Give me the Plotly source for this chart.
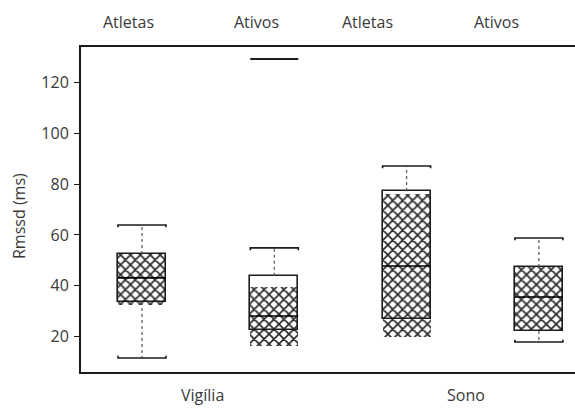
import plotly.graph_objects as go

# Rmssd summaries per group (ms)
groups = ["Atletas", "Ativos", "Atletas", "Ativos"]
phases = ["Vigília", "Sono"]
q3 = [52.5, 43.9, 77.3, 47.4]
q1 = [33.6, 22.6, 27.0, 22.2]
median = [43.1, 28.1, 47.8, 35.6]
hatch_top = [52.5, 39.5, 76.0, 47.4]
hatch_bottom = [32.5, 16.3, 19.9, 22.2]
upper_whisker = [63.9, 54.9, 87.1, 58.8]
lower_whisker = [11.6, None, None, 17.9]
outliers = [None, 129.2, None, None]
y_ticks = [20, 40, 60, 80, 100, 120]

INK = "#1c1c1c"
TEXT = "#3a3a3a"
FONT = "Open Sans"
W = 0.363      # box width in x units
CAP = 0.9      # length of the little bent ends of the caps

xs = list(range(len(groups)))
fig = go.Figure()

# hatched body of each box
fig.add_trace(go.Bar(
    x=xs, y=[t - b for t, b in zip(hatch_top, hatch_bottom)], base=hatch_bottom,
    width=W,
    marker=dict(color="white", line=dict(width=0),
                pattern=dict(shape="x", size=7, solidity=0.42,
                             fgcolor="#111111", fgopacity=0.9, bgcolor="white")),
    hoverinfo="skip", showlegend=False))

# box outline (quartiles)
fig.add_trace(go.Bar(
    x=xs, y=[t - b for t, b in zip(q3, q1)], base=q1, width=W,
    marker=dict(color="rgba(0,0,0,0)", line=dict(width=1.6, color=INK)),
    hoverinfo="skip", showlegend=False))

for i, x in enumerate(xs):
    l, r = x - W / 2, x + W / 2
    # median
    fig.add_trace(go.Scatter(x=[l, r], y=[median[i]] * 2, mode="lines",
                             line=dict(color="#000000", width=1.6),
                             hoverinfo="skip", showlegend=False))
    # upper whisker and cap
    fig.add_trace(go.Scatter(x=[x, x], y=[q3[i], upper_whisker[i]], mode="lines",
                             line=dict(color="#555", width=1.2, dash="dot"),
                             hoverinfo="skip", showlegend=False))
    u = upper_whisker[i]
    fig.add_trace(go.Scatter(x=[l, l, r, r], y=[u - CAP, u, u, u - CAP], mode="lines",
                             line=dict(color=INK, width=1.6),
                             hoverinfo="skip", showlegend=False))
    # lower whisker and cap
    lw = lower_whisker[i]
    if lw is not None:
        fig.add_trace(go.Scatter(x=[x, x], y=[q1[i], lw], mode="lines",
                                 line=dict(color="#555", width=1.2, dash="dot"),
                                 hoverinfo="skip", showlegend=False))
        fig.add_trace(go.Scatter(x=[l, l, r, r], y=[lw + CAP, lw, lw, lw + CAP],
                                 mode="lines", line=dict(color=INK, width=1.6),
                                 hoverinfo="skip", showlegend=False))
    # extreme value drawn as a bar
    if outliers[i] is not None:
        fig.add_trace(go.Scatter(x=[l, r], y=[outliers[i]] * 2, mode="lines",
                                 line=dict(color=INK, width=2),
                                 hoverinfo="skip", showlegend=False))

annotations = []
# group names above the plot
for gx, name in zip([0.097, 0.356, 0.579, 0.842], groups):
    annotations.append(dict(x=gx, y=1.077, xref="paper", yref="paper", text=name,
                            showarrow=False, xanchor="center", yanchor="middle",
                            font=dict(family=FONT, size=16, color=TEXT)))
# phase names below the plot
for px, name in zip([0.245, 0.779], phases):
    annotations.append(dict(x=px, y=-0.071, xref="paper", yref="paper", text=name,
                            showarrow=False, xanchor="center", yanchor="middle",
                            font=dict(family=FONT, size=16, color=TEXT)))
# y-axis title
annotations.append(dict(x=-0.1255, y=0.48, xref="paper", yref="paper",
                        text="Rmssd (ms)", textangle=-90, showarrow=False,
                        xanchor="center", yanchor="middle",
                        font=dict(family=FONT, size=16, color=TEXT)))

fig.update_layout(
    width=575, height=409,
    margin=dict(l=81, r=0, t=47, b=37),
    paper_bgcolor="white", plot_bgcolor="white",
    barmode="overlay", bargap=0,
    annotations=annotations,
    font=dict(family=FONT, color=TEXT),
    xaxis=dict(range=[-0.461, 3.273], showgrid=False, zeroline=False,
               showticklabels=False, ticks="", showline=True, mirror=True,
               linecolor=INK, linewidth=2),
    yaxis=dict(range=[6.1, 133.9], tickvals=y_ticks, showgrid=False,
               zeroline=False, ticks="outside", ticklen=5, tickwidth=1,
               tickcolor=INK, showline=True, linecolor=INK, linewidth=2,
               tickfont=dict(family=FONT, size=16, color=TEXT),
               ticklabelstandoff=2),
)

fig.write_html("out.html")
